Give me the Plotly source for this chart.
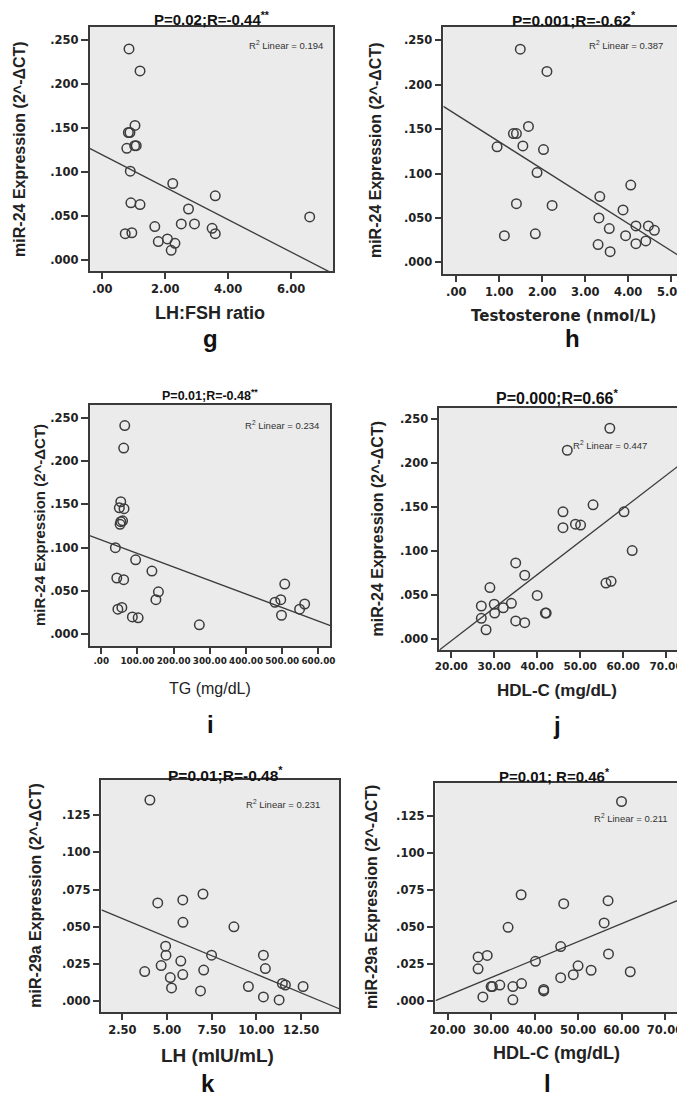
import plotly.graph_objects as go
from plotly.subplots import make_subplots

# panel g: LH:FSH ratio vs miR-24
g_x = [0.85, 1.20, 1.04, 0.83, 0.88, 1.03, 1.08, 0.78, 0.89, 0.91, 1.20, 0.73, 0.94,
       2.24, 3.59, 2.74, 2.51, 2.93, 1.67, 3.49, 3.59, 1.78, 2.07, 2.31, 2.19, 6.59]
g_y = [0.240, 0.215, 0.153, 0.145, 0.145, 0.130, 0.130, 0.127, 0.101, 0.065, 0.063, 0.030, 0.031,
       0.087, 0.073, 0.058, 0.041, 0.041, 0.038, 0.036, 0.030, 0.021, 0.024, 0.019, 0.011, 0.049]

# panel h: testosterone vs miR-24
h_x = [1.49, 2.11, 1.68, 1.33, 1.40, 0.95, 1.55, 2.03, 1.88, 1.40, 2.23, 1.12, 1.84,
       4.06, 3.34, 3.88, 3.32, 4.18, 4.47, 3.56, 4.61, 3.94, 4.18, 4.41, 3.30, 3.58]
h_y = [0.240, 0.215, 0.153, 0.145, 0.145, 0.130, 0.131, 0.127, 0.101, 0.066, 0.064, 0.030, 0.032,
       0.087, 0.074, 0.059, 0.050, 0.041, 0.041, 0.038, 0.036, 0.030, 0.021, 0.024, 0.020, 0.012]

# panel i: TG vs miR-24
i_x = [65, 62, 54, 50, 63, 54, 59, 52, 39, 95, 43, 62, 46,
       57, 86, 102, 140, 158, 151, 271, 480, 496, 507, 498, 548, 562]
i_y = [0.241, 0.215, 0.153, 0.146, 0.145, 0.130, 0.131, 0.127, 0.100, 0.086, 0.065, 0.063, 0.029,
       0.031, 0.020, 0.019, 0.073, 0.049, 0.040, 0.011, 0.037, 0.040, 0.058, 0.022, 0.029, 0.035]

# panel j: HDL-C vs miR-24
j_x = [56.9, 47.0, 53.0, 46.0, 60.2, 46.0, 48.9, 50.1, 62.1, 35.0, 37.1, 56.0, 57.2,
       29.0, 40.0, 27.0, 30.0, 32.1, 34.0, 30.1, 27.0, 28.1, 35.0, 37.1, 41.9, 42.1]
j_y = [0.240, 0.215, 0.153, 0.145, 0.145, 0.127, 0.131, 0.130, 0.101, 0.087, 0.073, 0.064, 0.066,
       0.059, 0.050, 0.038, 0.040, 0.036, 0.041, 0.030, 0.024, 0.011, 0.021, 0.019, 0.030, 0.030]

# panel k: LH vs miR-29a
k_x = [4.04, 4.48, 5.88, 7.01, 5.89, 8.74, 4.92, 4.94, 4.67, 3.75, 5.18, 5.25, 5.77,
       5.88, 7.05, 6.87, 7.49, 10.39, 10.50, 9.55, 10.39, 11.27, 11.45, 11.62, 12.61]
k_y = [0.135, 0.066, 0.068, 0.072, 0.053, 0.050, 0.037, 0.031, 0.024, 0.020, 0.016, 0.009, 0.027,
       0.018, 0.021, 0.007, 0.031, 0.031, 0.022, 0.010, 0.003, 0.001, 0.012, 0.011, 0.010]

# panel l: HDL-C vs miR-29a
l_x = [60.0, 36.9, 46.7, 56.9, 33.9, 56.0, 46.0, 57.0, 27.0, 29.1, 27.0, 40.2, 50.0,
       53.0, 62.0, 48.9, 46.0, 30.0, 30.3, 32.0, 35.0, 37.0, 42.1, 42.1, 28.1, 35.0]
l_y = [0.135, 0.072, 0.066, 0.068, 0.050, 0.053, 0.037, 0.032, 0.030, 0.031, 0.022, 0.027, 0.024,
       0.021, 0.020, 0.018, 0.016, 0.010, 0.010, 0.011, 0.010, 0.012, 0.008, 0.007, 0.003, 0.001]

# fit lines (slope, intercept)
fits = [(-0.01843, 0.1196), (-0.0307, 0.1664), (-0.0001564, 0.109),
        (0.003761, -0.0768), (-0.004985, 0.0680), (0.001215, -0.0204)]

titles = ["P=0.02;R=-0.44<sup>**</sup>", "P=0.001;R=-0.62<sup>*</sup>", "P=0.01;R=-0.48<sup>**</sup>",
          "P=0.000;R=0.66<sup>*</sup>", "P=0.01;R=-0.48<sup>*</sup>", "P=0.01; R=0.46<sup>*</sup>"]
r2_text = ["R<sup>2</sup> Linear = 0.194", "R<sup>2</sup> Linear = 0.387", "R<sup>2</sup> Linear = 0.234",
           "R<sup>2</sup> Linear = 0.447", "R<sup>2</sup> Linear = 0.231", "R<sup>2</sup> Linear = 0.211"]
x_titles = ["LH:FSH ratio", "Testosterone (nmol/L)", "TG (mg/dL)",
            "HDL-C (mg/dL)", "LH (mIU/mL)", "HDL-C (mg/dL)"]
y_titles = ["miR-24 Expression (2^-ΔCT)"] * 4 + ["miR-29a Expression (2^-ΔCT)"] * 2
letters = ["g", "h", "i", "j", "k", "l"]

y24_vals = [0, 0.05, 0.10, 0.15, 0.20, 0.25]
y24_text = [".000", ".050", ".100", ".150", ".200", ".250"]
y29_vals = [0, 0.025, 0.05, 0.075, 0.10, 0.125]
y29_text = [".000", ".025", ".050", ".075", ".100", ".125"]
g_ticks = ([0, 2, 4, 6], [".00", "2.00", "4.00", "6.00"])
h_ticks = ([0, 1, 2, 3, 4, 5], [".00", "1.00", "2.00", "3.00", "4.00", "5.00"])
i_ticks = ([0, 100, 200, 300, 400, 500, 600],
           [".00", "100.00", "200.00", "300.00", "400.00", "500.00", "600.00"])
hdl_ticks = ([20, 30, 40, 50, 60, 70], ["20.00", "30.00", "40.00", "50.00", "60.00", "70.00"])
k_ticks = ([2.5, 5, 7.5, 10, 12.5], ["2.50", "5.00", "7.50", "10.00", "12.50"])

W, H = 685, 1097

def fx(p):
    return p / W

def fy(p):
    return 1 - p / H

panels = [
    dict(x=g_x, y=g_y, box=(77, 325, 19, 263), xr=[-0.40, 7.34], yr=[-0.0125, 0.265],
         xt=g_ticks, yt=(y24_vals, y24_text), xfs=11.5,
         title=(202, 11, 15), r2=(317, 37, "right"), xtitle=(200, 305, 18, True, "Arial"),
         ytitle=(5, 16), letter=(200, 330)),
    dict(x=h_x, y=h_y, box=(437, 682, 19, 266), xr=[-0.30, 5.30], yr=[-0.0132, 0.265],
         xt=h_ticks, yt=(y24_vals, y24_text), xfs=11.5,
         title=(570, 11, 15.5), r2=(663, 37, "right"), xtitle=(559, 308, 15, True, "DejaVu Sans"),
         ytitle=(368, 16), letter=(568, 330)),
    dict(x=i_x, y=i_y, box=(77, 322, 397, 638), xr=[-32, 633], yr=[-0.0135, 0.2647],
         xt=i_ticks, yt=(y24_vals, y24_text), xfs=8.8,
         title=(200, 387, 12.5), r2=(312, 417, "right"), xtitle=(200, 680, 16, False, "Arial"),
         ytitle=(26, 15), letter=(200, 716)),
    dict(x=j_x, y=j_y, box=(433, 676, 400, 642), xr=[17.25, 72.8], yr=[-0.012, 0.263],
         xt=hdl_ticks, yt=(y24_vals, y24_text), xfs=10.5,
         title=(553, 389, 16), r2=(567, 437, "left"), xtitle=(553, 682, 17, True, "Arial"),
         ytitle=(369, 16), letter=(553, 718)),
    dict(x=k_x, y=k_y, box=(89, 331, 772, 1004), xr=[1.33, 14.63], yr=[-0.0071, 0.1484],
         xt=k_ticks, yt=(y29_vals, y29_text), xfs=11.5,
         title=(215, 766, 15.5), r2=(313, 796, "right"), xtitle=(207, 1047, 19, True, "Arial"),
         ytitle=(21, 16), letter=(197, 1075)),
    dict(x=l_x, y=l_y, box=(429, 675, 775, 1004), xr=[17.2, 72.8], yr=[-0.0072, 0.1475],
         xt=hdl_ticks, yt=(y29_vals, y29_text), xfs=11.5,
         title=(550, 767, 15), r2=(668, 810, "right"), xtitle=(552, 1045, 18, True, "Arial"),
         ytitle=(364, 16), letter=(543, 1075)),
]

fig = make_subplots(rows=3, cols=2)
ann = []
axcol = "#3a3a3a"

for n, p in enumerate(panels):
    row, col = n // 2 + 1, n % 2 + 1
    fig.add_trace(go.Scatter(x=p["x"], y=p["y"], mode="markers",
                             marker=dict(symbol="circle-open", size=9.5, color="#3c3c3c",
                                         line=dict(width=1.5)),
                             showlegend=False), row=row, col=col)
    m, b = fits[n]
    x0, x1 = p["xr"]
    fig.add_trace(go.Scatter(x=[x0, x1], y=[m * x0 + b, m * x1 + b], mode="lines",
                             line=dict(color="#3c3c3c", width=1.3), showlegend=False),
                  row=row, col=col)
    l, r, t, bt = p["box"]
    fig.update_xaxes(domain=[fx(l), fx(r)], range=p["xr"], tickvals=p["xt"][0], ticktext=p["xt"][1],
                     tickfont=dict(family="DejaVu Sans", size=p["xfs"], color="#222", weight="bold"),
                     row=row, col=col)
    fig.update_yaxes(domain=[fy(bt), fy(t)], range=p["yr"], tickvals=p["yt"][0], ticktext=p["yt"][1],
                     tickfont=dict(family="DejaVu Sans", size=11.5, color="#222", weight="bold"),
                     row=row, col=col)

    tx, ty, ts = p["title"]
    ann.append(dict(x=fx(tx), y=fy(ty), text="<b>" + titles[n] + "</b>",
                    font=dict(family="Arial", size=ts, color="#111")))
    rx, ry, ra = p["r2"]
    ann.append(dict(x=fx(rx), y=fy(ry), text=r2_text[n], xanchor=ra,
                    font=dict(family="Arial", size=9.5, color="#333")))
    xx, xy, xs, xb, xf = p["xtitle"]
    ann.append(dict(x=fx(xx), y=fy(xy), text=("<b>%s</b>" if xb else "%s") % x_titles[n],
                    font=dict(family=xf, size=xs, color="#222")))
    yx, ys = p["ytitle"]
    ann.append(dict(x=fx(yx), y=(fy(t) + fy(bt)) / 2, text="<b>" + y_titles[n] + "</b>",
                    textangle=-90, font=dict(family="Arial", size=ys, color="#222")))
    lx, ly = p["letter"]
    ann.append(dict(x=fx(lx), y=fy(ly), text="<b>" + letters[n] + "</b>",
                    font=dict(family="Arial", size=24, color="#111")))

fig.update_xaxes(showgrid=False, zeroline=False, showline=True, mirror=True, linecolor=axcol,
                 linewidth=1.5, ticks="outside", ticklen=6, tickcolor=axcol, tickwidth=1.5)
fig.update_yaxes(showgrid=False, zeroline=False, showline=True, mirror=True, linecolor=axcol,
                 linewidth=1.5, ticks="outside", ticklen=7, tickcolor=axcol, tickwidth=1.5)

for a in ann:
    a.setdefault("xanchor", "center")
    a.update(xref="paper", yref="paper", yanchor="middle", showarrow=False)

fig.update_layout(width=W, height=H, margin=dict(l=0, r=0, t=0, b=0),
                  paper_bgcolor="white", plot_bgcolor="#ebebeb", annotations=ann)

fig.write_html("out.html")
